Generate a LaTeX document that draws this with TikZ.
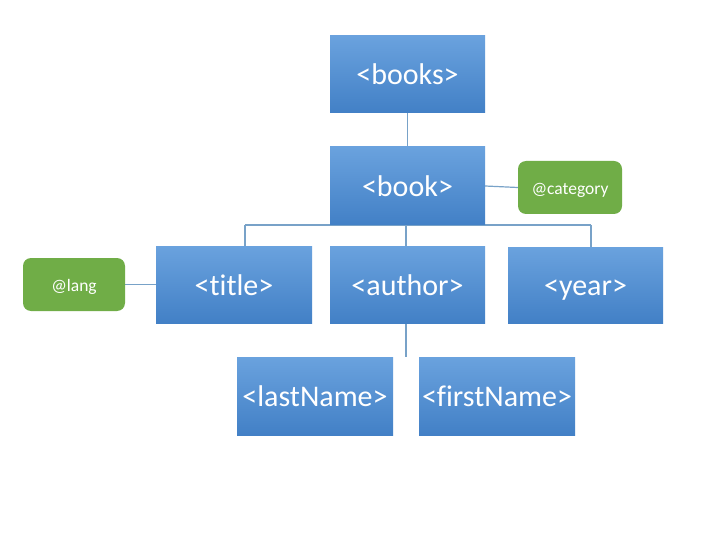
\documentclass[tikz,border=0pt]{standalone}
\usepackage{fontspec}
\setmainfont{Carlito}[Ligatures={NoCommon}]
\usetikzlibrary{backgrounds}
\definecolor{btop}{RGB}{106,162,222}
\definecolor{bbot}{RGB}{66,128,198}
\definecolor{gfill}{RGB}{112,173,71}
\definecolor{lcol}{RGB}{120,162,200}
\tikzset{
  bluebox/.style={rectangle, top color=btop, bottom color=bbot, draw=none, text=white, font=\fontsize{30}{34}\selectfont, inner sep=0pt, text height=25pt, text depth=4pt},
  greenbox/.style={rectangle, rounded corners=8pt, fill=gfill, draw=none, text=white, font=\fontsize{17.5}{20}\selectfont, inner sep=0pt, minimum width=104pt, minimum height=53pt, text height=14pt, text depth=0pt},
  conn/.style={draw=lcol, line width=1.2pt}
}
\begin{document}
\begin{tikzpicture}[x=1pt,y=-1pt]
\useasboundingbox (0,0) rectangle (720,540);
\node[bluebox, minimum width=155pt, minimum height=77pt] (books) at (407.5,74.5) {<books>};
\node[bluebox, minimum width=155pt, minimum height=78pt] (book) at (407.5,186) {<book>};
\node[greenbox] (category) at (570,187.5) {@category};
\node[bluebox, minimum width=156pt, minimum height=77pt] (title) at (234,284.5) {<title>};
\node[bluebox, minimum width=155pt, minimum height=77pt] (author) at (407.5,284.5) {<author>};
\node[bluebox, minimum width=155pt, minimum height=76pt] (year) at (585.5,285) {<year>};
\node[greenbox, minimum width=102pt] (lang) at (74,284.5) {@lang};
\node[bluebox, minimum width=156pt, minimum height=78pt] (lastName) at (315,396) {<lastName>};
\node[bluebox, minimum width=156pt, minimum height=78pt] (firstName) at (497,396) {<firstName>};
\coordinate (busL) at (245,225);
\coordinate (busR) at (591,225);
\coordinate (busM) at (406,225);
\coordinate (kidM) at (406,357);
\begin{scope}[on background layer]
\fill[white] (0,0) rectangle (720,540);
\draw[conn] (books.south) -- (book.north);
\draw[conn] (book.east) -- (category.west);
\draw[conn] (busL) -- (busR);
\draw[conn] (busL) -- (busL |- title.north);
\draw[conn] (busR) -- (busR |- year.north);
\draw[conn] (busM) -- (busM |- author.north);
\draw[conn] (lang.east) -- (lang.east -| title.west);
\draw[conn] (author.south -| kidM) -- (kidM);
\end{scope}
\end{tikzpicture}
\end{document}
